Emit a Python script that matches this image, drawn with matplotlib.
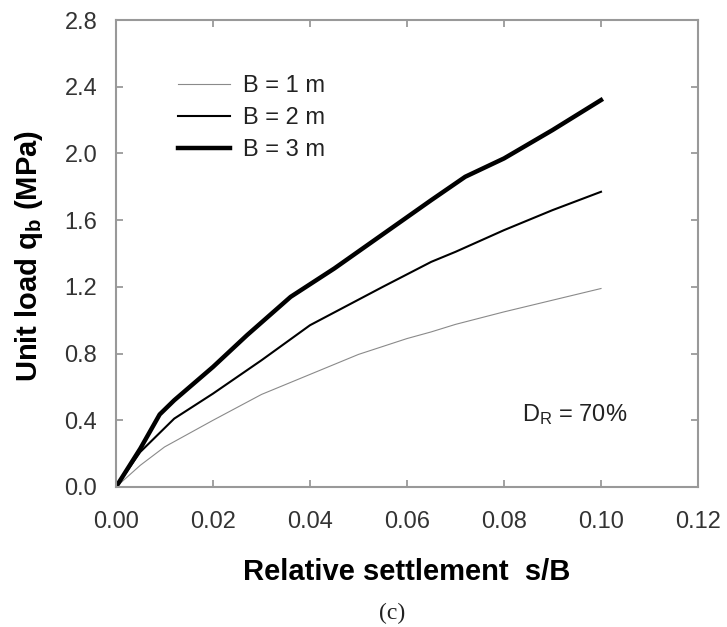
import matplotlib
matplotlib.use("Agg")
import matplotlib.pyplot as plt

plt.rcParams['font.family'] = ['Liberation Sans', 'DejaVu Sans']
plt.rcParams['mathtext.fontset'] = 'custom'
plt.rcParams['mathtext.rm'] = 'Liberation Sans'
plt.rcParams['mathtext.it'] = 'Liberation Sans'
plt.rcParams['mathtext.bf'] = 'Liberation Sans:bold'

# Data
x_b1 = [0.0, 0.005, 0.01, 0.02, 0.03, 0.04, 0.05, 0.06, 0.065, 0.07, 0.08, 0.09, 0.10]
y_b1 = [0.0, 0.13, 0.24, 0.40, 0.555, 0.675, 0.795, 0.89, 0.93, 0.975, 1.05, 1.12, 1.19]

x_b2 = [0.0, 0.005, 0.012, 0.02, 0.03, 0.04, 0.055, 0.065, 0.07, 0.08, 0.09, 0.10]
y_b2 = [0.0, 0.21, 0.41, 0.56, 0.76, 0.97, 1.2, 1.35, 1.41, 1.54, 1.66, 1.77]

x_b3 = [0.0, 0.005, 0.009, 0.012, 0.02, 0.027, 0.036, 0.045, 0.055, 0.065, 0.072, 0.08, 0.09, 0.10]
y_b3 = [0.0, 0.23, 0.435, 0.52, 0.72, 0.91, 1.14, 1.31, 1.515, 1.72, 1.86, 1.97, 2.14, 2.32]

labels = ["B = 1 m", "B = 2 m", "B = 3 m"]
x_ticks = [0.00, 0.02, 0.04, 0.06, 0.08, 0.10, 0.12]
y_ticks = [0.0, 0.4, 0.8, 1.2, 1.6, 2.0, 2.4, 2.8]

fig = plt.figure(figsize=(7.27, 6.27), dpi=100)
ax = fig.add_axes([0.1596, 0.2233, 0.8005, 0.7448])

ax.plot(x_b1, y_b1, color='#8a8a8a', lw=0.8, label=labels[0])
ax.plot(x_b2, y_b2, color='black', lw=1.5, label=labels[1])
ax.plot(x_b3, y_b3, color='black', lw=3.2, label=labels[2])

ax.set_xlim(0, 0.12)
ax.set_ylim(0, 2.8)
ax.set_xticks(x_ticks)
ax.set_xticklabels([f"{v:.2f}" for v in x_ticks])
ax.set_yticks(y_ticks)
ax.set_yticklabels([f"{v:.1f}" for v in y_ticks])
ax.tick_params(direction='in', length=5, width=1.1, color='#888888',
               labelsize=17, labelcolor='#333333',
               top=True, right=True)
ax.tick_params(axis='x', pad=17)
ax.tick_params(axis='y', pad=13.5)
for s in ax.spines.values():
    s.set_color('#999999')
    s.set_linewidth(1.5)

ax.set_xlabel("Relative settlement  s/B", fontsize=21, fontweight='bold')
ax.xaxis.set_label_coords(0.5, -0.152)
ax.set_ylabel("Unit load q$_\\mathbf{b}$ (MPa)", fontsize=21, fontweight='bold')
ax.yaxis.set_label_coords(-0.122, 0.495)

leg = ax.legend(loc='upper left', bbox_to_anchor=(0.1065, 0.882), frameon=False,
                borderpad=0, borderaxespad=0,
                fontsize=17, handlelength=2.2, handletextpad=0.55, labelspacing=0.43)
for t in leg.get_texts():
    t.set_color('#222222')

ax.text(0.0837, 0.432, "D$_\\mathrm{R}$ = 70%", fontsize=17, color='#222222',
        ha='left', va='center')

fig.text(0.539, 0.021, "(c)", fontsize=17, family='Liberation Serif',
         ha='center', va='center', color='#222222')

fig.savefig("out.png", dpi=100)
